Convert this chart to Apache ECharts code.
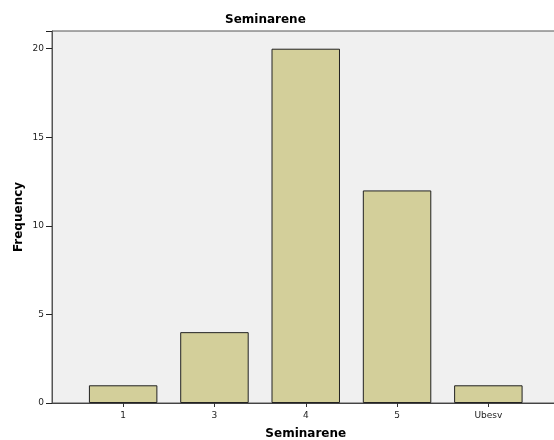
<!DOCTYPE html>
<html><head><meta charset="utf-8">
<script src="https://cdn.jsdelivr.net/npm/echarts@6/dist/echarts.min.js"></script>
<style>html,body{margin:0;padding:0;background:#fff}#c{width:554px;height:440px}</style>
</head><body><div id="c"></div>
<script>
const categories = ['1', '3', '4', '5', 'Ubesv'];
const frequency = [1, 4, 20, 12, 1];
const yTicks = [0, 5, 10, 15, 20];

const chart = echarts.init(document.getElementById('c'));
const font = 'Verdana, "DejaVu Sans", sans-serif';
chart.setOption({
  animation: false,
  title: {text: 'Seminarene', left: 220, top: 9,
    textStyle: {fontFamily: font, fontSize: 12, fontWeight: 'bold', color: '#000'}},
  grid: [
    {left: 52, right: -2, top: 31, bottom: 37, show: true, backgroundColor: '#f0f0f0', borderColor: '#555', borderWidth: 1, containLabel: false, outerBoundsMode: 'none'},
    {left: 77.5, right: 20, top: 31, bottom: 37, containLabel: false, outerBoundsMode: 'none'}
  ],
  xAxis: [
    {gridIndex: 0, type: 'value', min: 0, max: 1, show: true, axisLabel: {show: false}, axisTick: {show: false}, splitLine: {show: false},
      axisLine: {lineStyle: {color: '#444', width: 1}}},
    {gridIndex: 1, type: 'category', data: categories,
      axisLine: {show: false},
      axisTick: {show: true, alignWithLabel: true, length: 4, lineStyle: {color: '#333'}},
      axisLabel: {color: '#222', fontFamily: font, fontSize: 9, margin: 8},
      name: 'Seminarene', nameLocation: 'middle', nameGap: 25,
      nameTextStyle: {fontFamily: font, fontSize: 12, fontWeight: 'bold', color: '#000'}}
  ],
  yAxis: [
    {gridIndex: 0, type: 'value', min: 0, max: 21, interval: 5,
      axisLine: {show: true, lineStyle: {color: '#555'}},
      axisTick: {show: true, length: 6, lineStyle: {color: '#222'}},
      axisLabel: {color: '#222', fontFamily: font, fontSize: 9, margin: 8,
        formatter: v => yTicks.includes(v) ? String(v) : ''},
      splitLine: {show: false},
      name: 'Frequency', nameLocation: 'middle', nameGap: 27, nameRotate: 90, nameMoveOverlap: false,
      nameTextStyle: {fontFamily: font, fontSize: 12, fontWeight: 'bold', color: '#000'}},
    {gridIndex: 1, type: 'value', min: 0, max: 21, show: false, splitLine: {show: false}}
  ],
  series: [{
    type: 'bar', xAxisIndex: 1, yAxisIndex: 1, data: frequency, barWidth: '75%',
    itemStyle: {color: '#d3cf9a', borderColor: '#222', borderWidth: 1}
  }]
});
</script></body></html>
